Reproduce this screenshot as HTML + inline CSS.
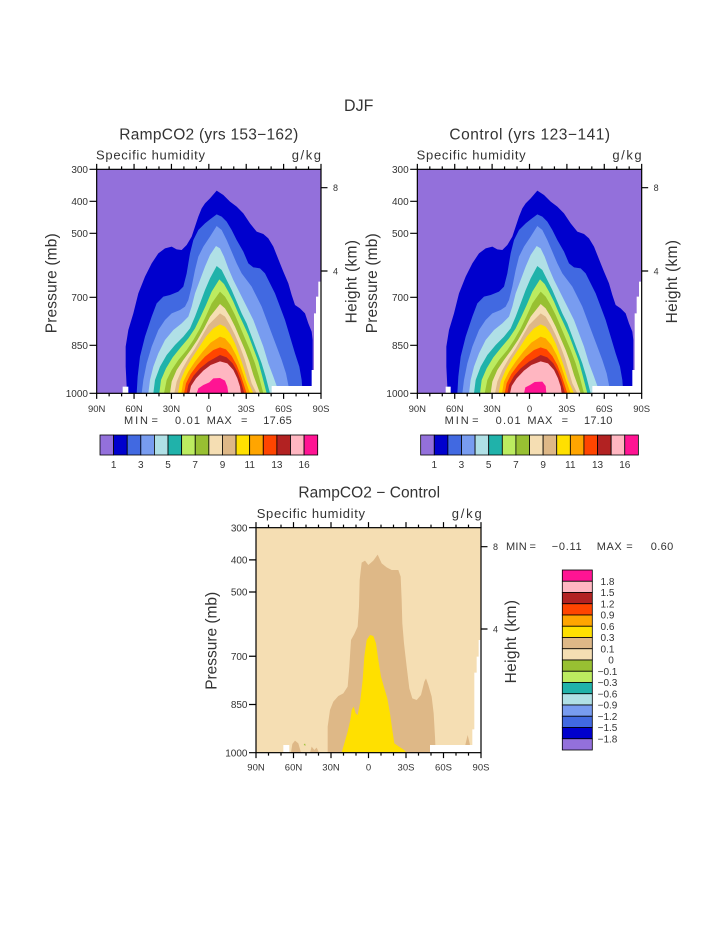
<!DOCTYPE html>
<html><head><meta charset="utf-8"><style>html,body{margin:0;padding:0;background:#fff}svg{display:block}</style></head>
<body>
<svg width="723" height="935" viewBox="0 0 723 935" xmlns="http://www.w3.org/2000/svg" font-family="'Liberation Sans', sans-serif" fill="#333">
<defs>
<g id="arches">
<rect x="170" y="148" width="673" height="672" fill="#9370DB"/>
<polygon fill="#0000CD" points="265,820 260,800 257,740 257,680 265,630 280,580 295,520 315,470 335,430 355,400 375,385 395,380 410,388 425,390 440,375 455,350 465,320 475,290 485,265 495,250 510,235 530,212 550,225 570,245 590,260 610,280 630,310 650,335 670,342 685,355 700,380 710,405 720,430 730,455 745,490 755,525 765,555 780,565 795,580 805,610 815,635 818,660 818,760 843,820"/>
<polygon fill="#4169E1" points="290,820 293,770 300,710 315,650 335,590 350,550 370,530 390,525 415,515 430,500 440,460 450,400 460,360 475,330 495,310 510,298 530,283 545,290 560,305 575,330 590,360 610,395 625,430 640,442 660,445 675,460 690,490 705,520 720,560 735,600 750,650 765,700 778,740 785,780 788,820"/>
<polygon fill="#789CF0" points="305,820 310,780 320,730 335,680 355,630 375,600 395,580 420,570 435,560 445,540 455,500 465,450 475,410 490,380 510,350 530,318 545,330 560,360 575,395 590,430 605,460 620,480 635,500 650,530 665,560 680,600 695,640 710,680 725,720 738,760 750,820"/>
<polygon fill="#B0E0E6" points="325,820 330,780 340,740 355,700 375,660 400,630 425,610 445,590 455,560 465,520 480,480 495,440 510,405 528,378 540,385 552,410 565,445 580,480 595,510 610,540 625,570 640,600 655,640 670,680 685,730 700,770 718,820"/>
<polygon fill="#20B2AA" points="340,820 345,780 360,740 380,705 405,675 430,650 450,625 465,590 480,550 495,510 510,475 530,438 545,450 560,480 575,510 590,545 605,580 620,610 635,650 650,690 665,730 677,770 690,820"/>
<polygon fill="#BCEC60" points="358,820 363,780 378,745 398,712 422,682 445,655 465,625 482,590 498,555 515,515 538,478 552,492 565,515 580,545 595,580 610,612 625,645 640,685 655,725 667,770 680,820"/>
<polygon fill="#98C032" points="372,820 380,780 395,750 415,720 440,690 460,660 480,625 497,590 515,550 540,515 555,530 570,555 585,585 600,620 615,655 630,690 645,730 657,770 670,820"/>
<polygon fill="#F5DEB3" points="390,820 395,785 410,750 430,720 452,690 472,660 492,625 510,590 540,552 555,565 570,590 585,620 600,655 615,690 628,725 640,765 660,820"/>
<polygon fill="#DEB887" points="403,820 410,785 425,750 445,715 465,685 485,650 505,615 540,580 555,590 570,615 585,645 600,680 613,715 625,755 635,790 650,820"/>
<polygon fill="#FFE000" points="414,820 420,785 435,750 455,715 475,685 498,650 520,625 540,613 555,620 570,640 585,670 598,705 610,740 622,780 640,820"/>
<polygon fill="#FFA500" points="424,820 430,785 445,755 465,725 488,695 512,668 540,650 555,655 572,675 588,705 602,740 614,775 630,820"/>
<polygon fill="#FF4500" points="432,820 438,790 452,762 472,735 495,710 520,690 540,682 558,688 575,708 590,735 602,765 612,795 620,820"/>
<polygon fill="#B22222" points="440,820 445,795 460,768 480,745 505,725 540,705 560,712 578,730 592,755 603,785 613,820"/>
<polygon fill="#FFB6C1" points="448,820 453,798 468,775 490,752 512,735 540,724 562,730 580,750 592,775 600,800 603,820"/>
<polygon fill="#fff" points="695,798 815,798 815,750 822,750 822,580 828,580 828,530 835,530 835,485 843,485 843,820 695,820"/>
</g>
</defs>

<text x="358.7" y="111" text-anchor="middle" font-size="17" textLength="29.3" lengthAdjust="spacingAndGlyphs">DJF</text>

<g transform="translate(40,120) scale(0.33333)">
<use href="#arches"/>
<polygon fill="#FF1493" points="470,820 475,805 490,795 508,787 520,775 540,774 555,782 562,800 565,820"/>
<rect x="248" y="800" width="17" height="20" fill="#fff"/>
</g>
<g transform="translate(360.67,120) scale(0.33333)">
<use href="#arches"/>
<polygon fill="#FF1493" points="490,820 494,802 508,795 522,786 545,785 555,798 557,820"/>
<rect x="255" y="800" width="15" height="20" fill="#fff"/>
</g>

<g id="topframe" stroke="#000" stroke-width="1.2" fill="none">
<rect x="96.67" y="169.33" width="224.33" height="224"/>
<path d="M89.5 169.33H96.67M89.5 201.33H96.67M89.5 233.33H96.67M89.5 297.33H96.67M89.5 345.33H96.67M89.5 393.33H96.67"/>
<path d="M321 187.7H327.5M321 271H327.5"/>
<path d="M96.67 393.33v5.5M109.13 393.33v3M121.6 393.33v3M134.06 393.33v5.5M146.52 393.33v3M158.98 393.33v3M171.44 393.33v5.5M183.9 393.33v3M196.37 393.33v3M208.83 393.33v5.5M221.29 393.33v3M233.76 393.33v3M246.22 393.33v5.5M258.68 393.33v3M271.14 393.33v3M283.61 393.33v5.5M296.07 393.33v3M308.53 393.33v3M321 393.33v5.5"/>
<path d="M96.67 169.33v-5.5M109.13 169.33v-3M121.6 169.33v-3M134.06 169.33v-5.5M146.52 169.33v-3M158.98 169.33v-3M171.44 169.33v-5.5M183.9 169.33v-3M196.37 169.33v-3M208.83 169.33v-5.5M221.29 169.33v-3M233.76 169.33v-3M246.22 169.33v-5.5M258.68 169.33v-3M271.14 169.33v-3M283.61 169.33v-5.5M296.07 169.33v-3M308.53 169.33v-3M321 169.33v-5.5"/>
</g>
<use href="#topframe" transform="translate(320.67,0)"/>

<g id="toptext">
<text x="96" y="159.3" font-size="13" textLength="109" lengthAdjust="spacing">Specific humidity</text>
<text x="291.7" y="159.3" font-size="13" textLength="29.3" lengthAdjust="spacing">g/kg</text>
<g font-size="10" text-anchor="end">
<text x="88" y="173">300</text><text x="88" y="205">400</text><text x="88" y="237">500</text><text x="88" y="301">700</text><text x="88" y="349">850</text><text x="88" y="397">1000</text>
</g>
<g font-size="9">
<text x="333" y="191">8</text><text x="333" y="274.3">4</text>
</g>
<g font-size="9.5" text-anchor="middle">
<text x="96.67" y="411.8">90N</text><text x="134.06" y="411.8">60N</text><text x="171.44" y="411.8">30N</text><text x="208.83" y="411.8">0</text><text x="246.22" y="411.8">30S</text><text x="283.61" y="411.8">60S</text><text x="321" y="411.8">90S</text>
</g>
<text transform="translate(56.5,283.3) rotate(-90)" text-anchor="middle" font-size="15.5" textLength="100" lengthAdjust="spacing">Pressure (mb)</text>
<text transform="translate(356.3,281.7) rotate(-90)" text-anchor="middle" font-size="15.5" textLength="83.3" lengthAdjust="spacing">Height (km)</text>
<g font-size="11">
<text x="124" y="423.8" textLength="24">MIN</text>
<text x="151.5" y="423.8">=</text>
<text x="175" y="423.8" textLength="25">0.01</text>
<text x="206.7" y="423.8" textLength="25">MAX</text>
<text x="241" y="423.8">=</text>
</g>
<g stroke="#000" stroke-width="0.8">
<rect x="100" y="435" width="13.61" height="20" fill="#9370DB"/>
<rect x="113.61" y="435" width="13.61" height="20" fill="#0000CD"/>
<rect x="127.21" y="435" width="13.61" height="20" fill="#4169E1"/>
<rect x="140.82" y="435" width="13.61" height="20" fill="#789CF0"/>
<rect x="154.42" y="435" width="13.61" height="20" fill="#B0E0E6"/>
<rect x="168.03" y="435" width="13.61" height="20" fill="#20B2AA"/>
<rect x="181.64" y="435" width="13.61" height="20" fill="#BCEC60"/>
<rect x="195.24" y="435" width="13.61" height="20" fill="#98C032"/>
<rect x="208.85" y="435" width="13.61" height="20" fill="#F5DEB3"/>
<rect x="222.45" y="435" width="13.61" height="20" fill="#DEB887"/>
<rect x="236.06" y="435" width="13.61" height="20" fill="#FFE000"/>
<rect x="249.67" y="435" width="13.61" height="20" fill="#FFA500"/>
<rect x="263.27" y="435" width="13.61" height="20" fill="#FF4500"/>
<rect x="276.88" y="435" width="13.61" height="20" fill="#B22222"/>
<rect x="290.48" y="435" width="13.61" height="20" fill="#FFB6C1"/>
<rect x="304.09" y="435" width="13.61" height="20" fill="#FF1493"/>
</g>
<g font-size="10" text-anchor="middle">
<text x="113.6" y="468">1</text><text x="140.8" y="468">3</text><text x="168" y="468">5</text><text x="195.2" y="468">7</text><text x="222.5" y="468">9</text><text x="249.7" y="468">11</text><text x="276.9" y="468">13</text><text x="304.1" y="468">16</text>
</g>
</g>
<use href="#toptext" transform="translate(320.67,0)"/>

<text x="208.8" y="139.5" text-anchor="middle" font-size="15.5" textLength="179" lengthAdjust="spacing">RampCO2 (yrs 153−162)</text>
<text x="529.7" y="139.5" text-anchor="middle" font-size="15.5" textLength="160.7" lengthAdjust="spacing">Control (yrs 123−141)</text>
<text x="263.3" y="423.8" font-size="11" textLength="28.4">17.65</text>
<text x="584" y="423.8" font-size="11" textLength="28.4">17.10</text>

<g transform="translate(195,480) scale(0.33333)">
<rect x="183" y="143" width="675" height="675" fill="#F5DEB3"/>
<polygon fill="#DEB887" points="398,818 398,740 405,690 415,665 430,648 445,640 458,620 463,560 468,480 478,462 488,440 492,380 494,300 500,248 510,242 520,255 535,242 548,224 560,250 575,262 590,270 610,270 617,290 620,360 622,430 627,490 635,560 643,625 652,655 665,660 678,645 688,605 693,595 700,615 710,650 716,700 720,770 722,818"/>
<polygon fill="#DEB887" points="288,818 292,792 300,782 310,790 318,818"/>
<polygon fill="#DEB887" points="345,818 350,800 358,810 365,803 372,818"/>
<polygon fill="#DEB887" points="806,818 812,790 818,765 824,790 828,818"/>
<polygon fill="#FFE000" points="440,818 448,790 458,755 466,720 470,690 476,680 482,700 488,705 495,670 503,600 508,530 515,480 525,465 535,468 543,490 550,540 558,590 568,625 577,655 585,700 592,750 598,790 612,800 625,808 635,818"/>
<polygon fill="#98C032" points="326,795 330,790 332,797"/>
<rect x="265" y="795" width="18" height="23" fill="#fff"/>
<polygon fill="#fff" points="705,795 832,795 832,748 838,748 838,578 845,578 845,530 851,530 851,480 858,480 858,818 705,818"/>
</g>
<g stroke="#000" stroke-width="1.2" fill="none">
<rect x="256" y="527.67" width="225" height="225"/>
<path d="M249 527.67H256M249 559.84H256M249 591.99H256M249 656.27H256M249 704.49H256M249 752.67H256"/>
<path d="M481 546.7H487.5M481 629H487.5"/>
<path d="M256 752.67v5.5M268.5 752.67v3M281 752.67v3M293.5 752.67v5.5M306 752.67v3M318.5 752.67v3M331 752.67v5.5M343.5 752.67v3M356 752.67v3M368.5 752.67v5.5M381 752.67v3M393.5 752.67v3M406 752.67v5.5M418.5 752.67v3M431 752.67v3M443.5 752.67v5.5M456 752.67v3M468.5 752.67v3M481 752.67v5.5"/>
<path d="M256 527.67v-5.5M268.5 527.67v-3M281 527.67v-3M293.5 527.67v-5.5M306 527.67v-3M318.5 527.67v-3M331 527.67v-5.5M343.5 527.67v-3M356 527.67v-3M368.5 527.67v-5.5M381 527.67v-3M393.5 527.67v-3M406 527.67v-5.5M418.5 527.67v-3M431 527.67v-3M443.5 527.67v-5.5M456 527.67v-3M468.5 527.67v-3M481 527.67v-5.5"/>
</g>
<text x="369.2" y="497.5" text-anchor="middle" font-size="15.5" textLength="141.7" lengthAdjust="spacing">RampCO2 − Control</text>
<text x="256.7" y="518" font-size="13" textLength="108.3" lengthAdjust="spacing">Specific humidity</text>
<text x="451.7" y="518" font-size="13" textLength="30" lengthAdjust="spacing">g/kg</text>
<g font-size="10" text-anchor="end">
<text x="247.5" y="531.3">300</text><text x="247.5" y="563.5">400</text><text x="247.5" y="595.6">500</text><text x="247.5" y="659.9">700</text><text x="247.5" y="708.1">850</text><text x="247.5" y="756.3">1000</text>
</g>
<g font-size="9">
<text x="493" y="550">8</text><text x="493" y="632.3">4</text>
</g>
<g font-size="9.5" text-anchor="middle">
<text x="256" y="770.5">90N</text><text x="293.5" y="770.5">60N</text><text x="331" y="770.5">30N</text><text x="368.5" y="770.5">0</text><text x="406" y="770.5">30S</text><text x="443.5" y="770.5">60S</text><text x="481" y="770.5">90S</text>
</g>
<text transform="translate(216.5,640.8) rotate(-90)" text-anchor="middle" font-size="15.5" textLength="98" lengthAdjust="spacing">Pressure (mb)</text>
<text transform="translate(516,641.7) rotate(-90)" text-anchor="middle" font-size="15.5" textLength="83.3" lengthAdjust="spacing">Height (km)</text>
<g font-size="11">
<text x="506" y="549.8" textLength="20.7">MIN</text>
<text x="529.5" y="549.8">=</text>
<text x="551.7" y="549.8" textLength="30">−0.11</text>
<text x="596.7" y="549.8" textLength="25">MAX</text>
<text x="626.2" y="549.8">=</text>
<text x="650.7" y="549.8" textLength="22.6">0.60</text>
</g>
<g stroke="#000" stroke-width="0.8">
<rect x="562.3" y="570" width="30" height="11.25" fill="#FF1493"/>
<rect x="562.3" y="581.25" width="30" height="11.25" fill="#FFB6C1"/>
<rect x="562.3" y="592.5" width="30" height="11.25" fill="#B22222"/>
<rect x="562.3" y="603.75" width="30" height="11.25" fill="#FF4500"/>
<rect x="562.3" y="615" width="30" height="11.25" fill="#FFA500"/>
<rect x="562.3" y="626.25" width="30" height="11.25" fill="#FFE000"/>
<rect x="562.3" y="637.5" width="30" height="11.25" fill="#DEB887"/>
<rect x="562.3" y="648.75" width="30" height="11.25" fill="#F5DEB3"/>
<rect x="562.3" y="660" width="30" height="11.25" fill="#98C032"/>
<rect x="562.3" y="671.25" width="30" height="11.25" fill="#BCEC60"/>
<rect x="562.3" y="682.5" width="30" height="11.25" fill="#20B2AA"/>
<rect x="562.3" y="693.75" width="30" height="11.25" fill="#B0E0E6"/>
<rect x="562.3" y="705" width="30" height="11.25" fill="#789CF0"/>
<rect x="562.3" y="716.25" width="30" height="11.25" fill="#4169E1"/>
<rect x="562.3" y="727.5" width="30" height="11.25" fill="#0000CD"/>
<rect x="562.3" y="738.75" width="30" height="11.25" fill="#9370DB"/>
</g>
<g font-size="10" text-anchor="middle">
<text x="607.5" y="584.8">1.8</text>
<text x="607.5" y="596">1.5</text>
<text x="607.5" y="607.3">1.2</text>
<text x="607.5" y="618.5">0.9</text>
<text x="607.5" y="629.8">0.6</text>
<text x="607.5" y="641">0.3</text>
<text x="607.5" y="652.3">0.1</text>
<text x="611" y="663.5">0</text>
<text x="607.5" y="674.8">−0.1</text>
<text x="607.5" y="686">−0.3</text>
<text x="607.5" y="697.3">−0.6</text>
<text x="607.5" y="708.5">−0.9</text>
<text x="607.5" y="719.8">−1.2</text>
<text x="607.5" y="731">−1.5</text>
<text x="607.5" y="742.3">−1.8</text>
</g>
</svg>
</body></html>
